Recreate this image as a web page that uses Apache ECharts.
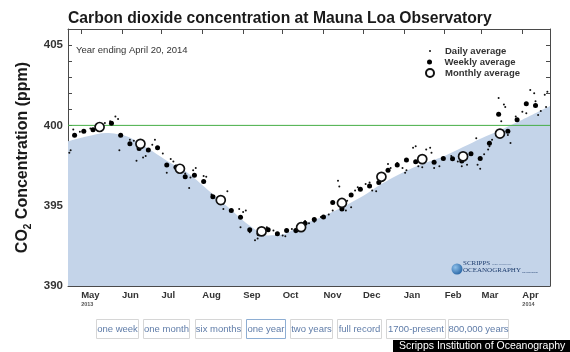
<!DOCTYPE html>
<html>
<head>
<meta charset="utf-8">
<script src="https://cdn.jsdelivr.net/npm/echarts@6/dist/echarts.min.js"></script>
<style>
html, body { margin: 0; padding: 0; background: #fff; }
#chart { width: 570px; height: 352px; }
</style>
</head>
<body>
<div id="chart"></div>
<script>
// month ticks along the date axis
var monthTicks = ['2013-05-01', '2013-06-01', '2013-07-01', '2013-08-01', '2013-09-01', '2013-10-01',
    '2013-11-01', '2013-12-01', '2014-01-01', '2014-02-01', '2014-03-01', '2014-04-01'];
var monthNames = ['Jan', 'Feb', 'Mar', 'Apr', 'May', 'Jun', 'Jul', 'Aug', 'Sep', 'Oct', 'Nov', 'Dec'];
var yTicks = [390, 395, 400, 405];
var refLevel = 400;

// smooth trend under the points (blue area)
var trendDates = ['2013-04-21', '2013-05-05', '2013-05-20', '2013-06-05', '2013-06-20', '2013-07-05',
    '2013-07-20', '2013-08-05', '2013-08-20', '2013-09-05', '2013-09-20', '2013-10-01', '2013-10-15',
    '2013-11-01', '2013-11-15', '2013-12-01', '2013-12-15', '2014-01-01', '2014-01-15', '2014-02-01',
    '2014-02-15', '2014-03-01', '2014-03-15', '2014-04-01', '2014-04-22'];
var trendValues = [399.0, 399.3, 399.52, 399.3, 398.6, 397.8, 397.1, 396.0, 394.95, 393.82, 393.15, 393.2,
    393.8, 394.35, 394.9, 395.6, 396.35, 397.1, 397.6, 398.1, 398.65, 399.2, 399.7, 400.35, 401.2];

// monthly averages (open circles)
var monthlyDates = ['2013-05-15', '2013-06-15', '2013-07-15', '2013-08-15', '2013-09-15', '2013-10-15',
    '2013-11-15', '2013-12-15', '2014-01-15', '2014-02-15', '2014-03-15'];
var monthlyValues = [399.9, 398.85, 397.3, 395.35, 393.4, 393.66, 395.17, 396.8, 397.9, 398.07, 399.49];

// weekly averages (filled dots)
var weeklyDates = ['2013-04-26', '2013-05-03', '2013-05-10', '2013-05-24', '2013-05-31', '2013-06-07',
    '2013-06-14', '2013-06-21', '2013-06-28', '2013-07-05', '2013-07-12', '2013-07-19', '2013-07-26',
    '2013-08-02', '2013-08-09', '2013-08-16', '2013-08-23', '2013-08-30', '2013-09-06', '2013-09-13',
    '2013-09-20', '2013-09-27', '2013-10-04', '2013-10-11', '2013-10-18', '2013-10-25', '2013-11-01',
    '2013-11-08', '2013-11-15', '2013-11-22', '2013-11-29', '2013-12-06', '2013-12-13', '2013-12-20',
    '2013-12-27', '2014-01-03', '2014-01-10', '2014-01-24', '2014-01-31', '2014-02-07', '2014-02-14',
    '2014-02-21', '2014-02-28', '2014-03-07', '2014-03-14', '2014-03-21', '2014-03-28', '2014-04-04',
    '2014-04-11'];
var weeklyValues = [399.38, 399.63, 399.73, 400.14, 399.38, 398.85, 398.56, 398.46, 398.6, 397.53, 397.4,
    396.8, 396.9, 396.5, 395.56, 395.2, 394.7, 394.28, 393.5, 393.25, 393.5, 393.25, 393.46, 393.46, 393.9,
    394.14, 394.3, 395.2, 394.8, 395.66, 396.03, 396.23, 396.44, 397.2, 397.53, 397.84, 397.73, 397.7,
    397.94, 397.92, 397.78, 398.23, 397.94, 398.89, 400.7, 399.63, 400.35, 401.34, 401.23];

// daily averages (small dots)
var dailyDates = ['2013-04-22', '2013-04-23', '2013-04-25', '2013-04-30', '2013-05-08', '2013-05-12',
    '2013-05-19', '2013-05-23', '2013-05-27', '2013-05-29', '2013-05-30', '2013-06-07', '2013-06-10',
    '2013-06-12', '2013-06-17', '2013-06-19', '2013-06-24', '2013-06-26', '2013-07-02', '2013-07-05',
    '2013-07-08', '2013-07-10', '2013-07-12', '2013-07-19', '2013-07-22', '2013-07-23', '2013-07-25',
    '2013-07-27', '2013-08-02', '2013-08-04', '2013-08-08', '2013-08-10', '2013-08-17', '2013-08-20',
    '2013-08-22', '2013-08-29', '2013-08-30', '2013-09-01', '2013-09-03', '2013-09-06', '2013-09-10',
    '2013-09-12', '2013-09-19', '2013-09-24', '2013-09-26', '2013-10-01', '2013-10-03', '2013-10-08',
    '2013-10-11', '2013-10-15', '2013-10-18', '2013-10-21', '2013-10-25', '2013-10-30', '2013-11-05',
    '2013-11-08', '2013-11-12', '2013-11-13', '2013-11-18', '2013-11-19', '2013-11-22', '2013-11-25',
    '2013-11-27', '2013-12-03', '2013-12-06', '2013-12-08', '2013-12-11', '2013-12-13', '2013-12-20',
    '2013-12-22', '2013-12-27', '2013-12-31', '2014-01-02', '2014-01-03', '2014-01-08', '2014-01-10',
    '2014-01-12', '2014-01-15', '2014-01-18', '2014-01-21', '2014-01-22', '2014-01-24', '2014-01-28',
    '2014-02-06', '2014-02-11', '2014-02-14', '2014-02-18', '2014-02-25', '2014-02-26', '2014-02-28',
    '2014-03-03', '2014-03-06', '2014-03-07', '2014-03-09', '2014-03-14', '2014-03-16', '2014-03-18',
    '2014-03-19', '2014-03-21', '2014-03-23', '2014-03-27', '2014-04-01', '2014-04-04', '2014-04-07',
    '2014-04-10', '2014-04-11', '2014-04-13', '2014-04-15', '2014-04-18', '2014-04-19', '2014-04-20'];
var dailyValues = [398.3, 398.45, 399.75, 399.6, 399.8, 399.95, 400.15, 400.25, 400.55, 400.4, 398.45,
    399.1, 399.05, 397.8, 398.0, 398.1, 398.8, 399.1, 398.25, 397.05, 397.9, 397.75, 397.5, 397.0, 396.1,
    396.75, 397.2, 397.35, 396.85, 396.8, 395.7, 395.6, 394.8, 395.9, 394.7, 394.8, 393.65, 394.6, 394.7,
    393.35, 392.85, 392.95, 393.65, 393.45, 393.2, 393.15, 393.1, 393.55, 393.35, 393.75, 394.05, 393.9,
    394.0, 394.3, 394.45, 394.7, 396.55, 396.2, 394.7, 395.3, 394.9, 395.95, 396.15, 396.35, 396.45, 395.95,
    395.9, 396.6, 397.6, 397.35, 397.65, 397.35, 397.05, 397.2, 398.6, 398.7, 397.45, 397.4, 398.5, 398.6,
    398.3, 397.35, 397.45, 398.1, 397.75, 397.45, 397.55, 399.2, 397.55, 397.3, 398.2, 398.5, 398.7, 399.1,
    401.7, 400.25, 401.3, 401.15, 399.4, 398.9, 400.55, 400.85, 400.75, 402.2, 402.0, 401.5, 400.65, 400.9,
    401.9, 401.15, 402.1];

var buttonLabels = ['one week', 'one month', 'six months', 'one year', 'two years', 'full record',
    '1700-present', '800,000 years'];

function ts(s) {
    var p = s.split('-');
    return new Date(+p[0], +p[1] - 1, +p[2]).getTime();
}
function pairs(dates, values) {
    return dates.map(function (d, i) { return [ts(d), values[i]]; });
}

var tickValues = monthTicks.map(ts);
var firstTick = tickValues[0], lastTick = tickValues[tickValues.length - 1];
var xMin = ts('2013-04-21'), xMax = ts('2014-04-22');
var FONT = '"Liberation Sans", Arial, Helvetica, sans-serif';
var SERIF = '"Liberation Serif", "DejaVu Serif", serif';
var frame = '#4a4a4a';
var logoInk = '#1e3d6e';

// buttons under the chart
var btnX = [96, 143, 195, 246, 290, 337, 386, 448];
var btnW = [42, 46, 46, 39, 42, 44, 59, 60];
var buttons = [];
buttonLabels.forEach(function (label, i) {
    var on = label === 'one year';
    buttons.push({
        type: 'rect',
        shape: { x: btnX[i] + 0.5, y: 319.5, width: btnW[i], height: 19 },
        style: { fill: '#fff', stroke: on ? '#8eaed3' : '#d6d6d6', lineWidth: 1 }
    });
    buttons.push({
        type: 'text',
        x: btnX[i] + btnW[i] / 2 + 0.5, y: 329,
        style: { text: label, fill: '#5f7ca8', font: '9.5px ' + FONT, align: 'center', verticalAlign: 'middle' }
    });
});

var chart = echarts.init(document.getElementById('chart'));
chart.setOption({
    animation: false,
    backgroundColor: '#fff',
    title: [{
        text: 'Carbon dioxide concentration at Mauna Loa Observatory',
        left: 68, top: 11, padding: 0,
        textStyle: { fontFamily: FONT, fontSize: 15.7, fontWeight: 'bold', color: '#1a1a1a' }
    }, {
        text: 'Year ending April 20, 2014',
        left: 76, top: 45, padding: 0,
        textStyle: { fontFamily: FONT, fontSize: 9.5, fontWeight: 'normal', color: '#333' }
    }],
    legend: [
        { name: 'Daily average', itemHeight: 2, left: 429, top: 45.5 },
        { name: 'Weekly average', itemHeight: 5, left: 427, top: 56.5 },
        { name: 'Monthly average', itemHeight: 8, left: 425, top: 67.5 }
    ].map(function (l) {
        return {
            data: [l.name], left: l.left, top: l.top, padding: 0, icon: 'circle',
            itemWidth: 20, itemHeight: l.itemHeight, selectedMode: false,
            textStyle: { fontFamily: FONT, fontSize: 9.5, fontWeight: 'bold', color: '#333', lineHeight: 11 }
        };
    }),
    grid: { left: 68, top: 29, width: 482, height: 257 },
    xAxis: [{
        type: 'value', position: 'bottom', min: xMin, max: xMax,
        axisLine: { lineStyle: { color: frame, width: 1 } },
        axisTick: { show: true, inside: true, length: 5, customValues: tickValues, lineStyle: { color: frame } },
        splitLine: { show: false },
        axisLabel: {
            customValues: tickValues, align: 'left', margin: 4,
            formatter: function (v) {
                var m = monthNames[new Date(v).getMonth()];
                if (v === firstTick) return '{m|' + m + '}\n{y|2013}';
                if (v === lastTick) return '{m|' + m + '}\n{y|2014}';
                return '{m|' + m + '}';
            },
            rich: {
                m: { fontFamily: FONT, fontSize: 9.5, fontWeight: 'bold', color: '#333', lineHeight: 11 },
                y: { fontFamily: FONT, fontSize: 5.5, fontWeight: 'bold', color: '#555', lineHeight: 6 }
            }
        }
    }, {
        type: 'value', position: 'top', min: xMin, max: xMax,
        axisLine: { lineStyle: { color: frame, width: 1 } },
        axisTick: { show: true, inside: true, length: 5, customValues: tickValues, lineStyle: { color: frame } },
        axisLabel: { show: false },
        splitLine: { show: false }
    }],
    yAxis: [{
        type: 'value', min: 390, max: 406, interval: 1,
        name: '{a|CO}{s|2}{a| Concentration (ppm)}',
        nameLocation: 'middle', nameRotate: 90, nameGap: 25,
        nameTextStyle: {
            rich: {
                a: { fontFamily: FONT, fontSize: 16, fontWeight: 'bold', color: '#1a1a1a', lineHeight: 20 },
                s: { fontFamily: FONT, fontSize: 10, fontWeight: 'bold', color: '#1a1a1a', lineHeight: 10, verticalAlign: 'bottom' }
            }
        },
        axisLine: { show: true, lineStyle: { color: frame, width: 1 } },
        axisTick: { show: true, inside: true, length: 4, lineStyle: { color: frame } },
        splitLine: { show: false },
        axisLabel: {
            margin: 5, fontFamily: FONT, fontSize: 11.5, fontWeight: 'bold', color: '#333',
            formatter: function (v) { return yTicks.indexOf(v) >= 0 ? String(v) : ''; }
        }
    }, {
        type: 'value', min: 390, max: 406, interval: 1, position: 'right',
        axisLine: { show: true, lineStyle: { color: frame, width: 1 } },
        axisTick: { show: true, inside: true, length: 4, lineStyle: { color: frame } },
        axisLabel: { show: false },
        splitLine: { show: false }
    }],
    series: [{
        name: 'Trend', type: 'line', smooth: 0.3, symbol: 'none',
        data: pairs(trendDates, trendValues),
        lineStyle: { width: 0 },
        areaStyle: { color: '#c4d4e9', opacity: 1, origin: 'start' },
        z: 1
    }, {
        name: '400 ppm', type: 'line', symbol: 'none',
        data: [[xMin, refLevel], [xMax, refLevel]],
        lineStyle: { color: '#45ad45', width: 1 },
        itemStyle: { color: '#45ad45' },
        z: 2
    }, {
        name: 'Daily average', type: 'scatter', symbol: 'circle', symbolSize: 2,
        data: pairs(dailyDates, dailyValues),
        itemStyle: { color: '#111', opacity: 1 }, z: 3
    }, {
        name: 'Weekly average', type: 'scatter', symbol: 'circle', symbolSize: 5,
        data: pairs(weeklyDates, weeklyValues),
        itemStyle: { color: '#000', opacity: 1 }, z: 4
    }, {
        name: 'Monthly average', type: 'scatter', symbol: 'circle', symbolSize: 9,
        data: pairs(monthlyDates, monthlyValues),
        itemStyle: { color: '#fff', borderColor: '#111', borderWidth: 1.7, opacity: 1 }, z: 5
    }],
    graphic: [
        {
            type: 'circle', z: 100, shape: { cx: 457, cy: 269, r: 5.5 },
            style: {
                fill: new echarts.graphic.RadialGradient(0.35, 0.35, 0.8, [
                    { offset: 0, color: '#8ec0ea' }, { offset: 1, color: '#1b5a9c' }])
            }
        },
        { type: 'text', z: 100, x: 463, y: 267, style: { text: 'SCRIPPS', font: '7px ' + SERIF, fill: logoInk, verticalAlign: 'bottom' } },
        { type: 'text', z: 100, x: 492, y: 266, style: { text: 'INSTITUTION OF', font: '2.5px ' + SERIF, fill: logoInk, verticalAlign: 'bottom' } },
        { type: 'text', z: 100, x: 463, y: 274, style: { text: 'OCEANOGRAPHY', font: '7px ' + SERIF, fill: logoInk, verticalAlign: 'bottom' } },
        { type: 'text', z: 100, x: 522, y: 273.5, style: { text: 'UC San Diego', font: '2.5px ' + FONT, fill: logoInk, verticalAlign: 'bottom' } },
        { type: 'group', children: buttons },
        { type: 'rect', shape: { x: 393, y: 340, width: 177, height: 12 }, style: { fill: '#000' } },
        { type: 'text', x: 399, y: 346.5, style: { text: 'Scripps Institution of Oceanography', fill: '#fff', font: '10.5px ' + FONT, verticalAlign: 'middle' } }
    ]
});
</script>
</body>
</html>
